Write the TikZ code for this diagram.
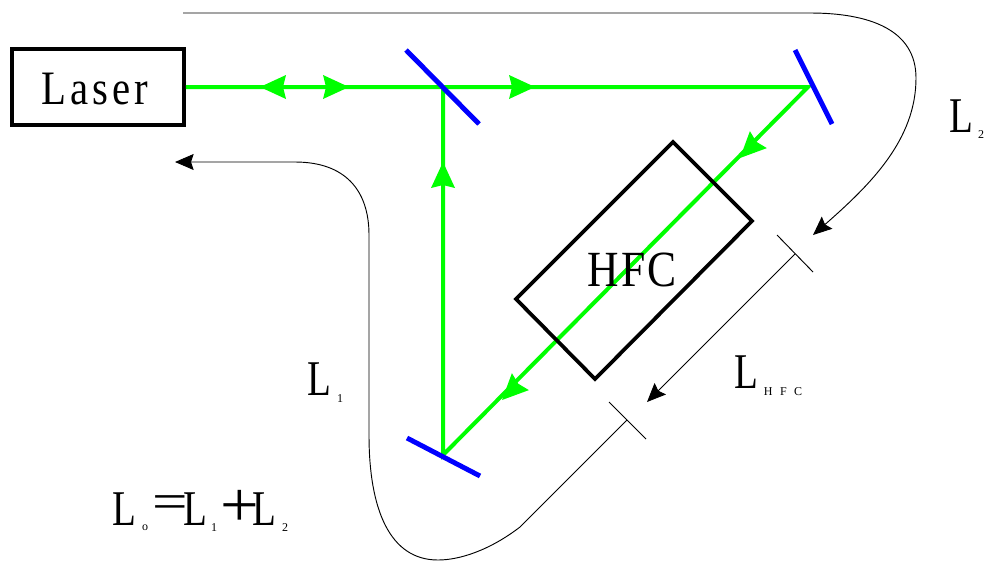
\documentclass[tikz,border=0pt]{standalone}
\usepackage{fontspec}
\setmainfont{Liberation Serif}
\usetikzlibrary{arrows.meta}
\definecolor{beamgreen}{RGB}{0,255,0}
\definecolor{mirrorblue}{RGB}{0,0,255}
\newcommand{\greentip}[2]{\fill[beamgreen,shift={(#1)},rotate=#2] (0,0) -- (-26,-12) -- (-23,0) -- (-26,12) -- cycle;}
\tikzset{
  beam/.style={draw=beamgreen,line width=3pt},
  mirror/.style={draw=mirrorblue,line width=3.7pt},
  frame/.style={draw=black,line width=2.8pt},
  thin/.style={draw=black,line width=0.7pt},
  ktip/.style={-{Stealth[length=14pt,width=12pt,inset=2pt,black]}},
  lab/.style={inner sep=0,xscale=.78,transform shape,font=\fontsize{37.5pt}{37.5pt}\selectfont},
  eqsign/.style={inner sep=0,xscale=1.26,transform shape,font=\fontsize{37.5pt}{37.5pt}\selectfont},
  plussign/.style={inner sep=0,xscale=1.07,transform shape,font=\fontsize{48pt}{48pt}\selectfont},
  sub/.style={inner sep=0,font=\fontsize{9pt}{9pt}\selectfont}
}
\begin{document}
\begin{tikzpicture}[x=.75pt,y=-.75pt]
\useasboundingbox (0,0) rectangle (987,561);
% coordinates
\coordinate (bs) at (443,87);
\coordinate (m2) at (808,87);
\coordinate (m3) at (443,455);
\coordinate (bsa) at (406,50); \coordinate (bsb) at (479,124);
\coordinate (m2a) at (795,50); \coordinate (m2b) at (832,124);
\coordinate (m3a) at (407,438); \coordinate (m3b) at (480,476);
\coordinate (h1) at (673,142); \coordinate (h2) at (752,221);
\coordinate (h3) at (595,379); \coordinate (h4) at (516,299);
\coordinate (t1a) at (777,235); \coordinate (t1b) at (813,272); \coordinate (t1) at (795,254);
\coordinate (t2a) at (609,402); \coordinate (t2b) at (646,439); \coordinate (t2) at (627,420);
\coordinate (tip12) at (647,402);
% laser box
\node[frame,minimum width=129pt,minimum height=57pt,inner sep=0] (laser) at (98,87) {};
\node[inner sep=0,xscale=.85,transform shape,font=\fontsize{36pt}{36pt}\selectfont\addfontfeature{LetterSpace=10}] (lasertxt) at (95,89) {Laser};
% beams
\draw[beam] (laser.east) -- (m2) -- (m3) -- (bs);
\greentip{260,87}{180}
\greentip{349,87}{0}
\greentip{535,87}{0}
\greentip{443,162}{90}
\greentip{740,158}{225}
\greentip{502,400}{225}
% mirrors
\draw[mirror] (bsa) -- (bsb);
\draw[mirror] (m2a) -- (m2b);
\draw[mirror] (m3a) -- (m3b);
% HFC
\draw[frame,line join=miter] (h1) -- (h2) -- (h3) -- (h4) -- cycle;
\node[inner sep=0,xscale=.86,transform shape,font=\fontsize{38pt}{38pt}\selectfont\addfontfeature{LetterSpace=5}] (hfc) at (632,270) {HFC};
% ticks and dimension
\draw[thin] (t1a) -- (t1b);
\draw[thin] (t2a) -- (t2b);
\draw[thin,ktip] (t1) -- (tip12);
% L2 curve
\coordinate (l2s) at (183,13);
\coordinate (l2e) at (813,235);
\draw[thin,ktip] (l2s) -- (810,13) .. controls (870,13) and (916,30) .. (916,78) .. controls (916,140) and (870,185) .. (l2e);
% L1 curve
\coordinate (l1e) at (175,162);
\draw[thin,ktip] (t2) -- (520,527) .. controls (490,550) and (460,560) .. (438,560) .. controls (390,560) and (369,510) .. (369,435) -- (369,235) .. controls (369,190) and (345,162) .. (295,162) -- (l1e);
% labels
\node[lab] (l2) at (961,116) {L};
\node[sub] (l2s1) at (981,135) {2};
\node[lab] (l1) at (319,379) {L};
\node[sub] (l1s1) at (340,399) {1};
\node[lab] (lh) at (746,372) {L};
\node[sub] (lhs) at (783,392) {H\hspace{5.6pt}F\hspace{5.6pt}C};
\node[lab] (l0) at (124,509) {L};
\node[sub] (l0s) at (145,528) {o};
\node[eqsign] (eq) at (170,507) {=};
\node[lab] (l1b) at (195,509) {L};
\node[sub] (l1bs) at (214,528) {1};
\node[plussign] (pl) at (240,508) {+};
\node[lab] (l2b) at (264,509) {L};
\node[sub] (l2bs) at (285,528) {2};
\end{tikzpicture}
\end{document}
